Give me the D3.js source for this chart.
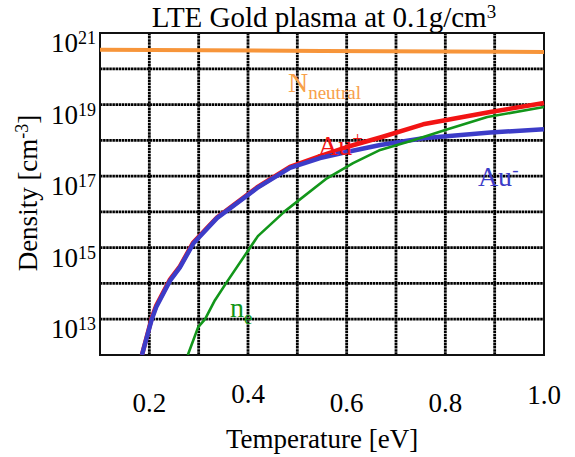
<!DOCTYPE html>
<html>
<head>
<meta charset="utf-8">
<script src="https://cdn.jsdelivr.net/npm/d3@7"></script>
<style>
  body { margin: 0; background: #fff; }
  svg { display: block; font-family: "Liberation Serif", "Times New Roman", serif; }
</style>
</head>
<body>
<div id="chart"></div>
<script>
    // values (temperature in eV, density in cm^-3)
    const tempIon = [0.185, 0.205, 0.214, 0.242, 0.262, 0.289, 0.337, 0.418, 0.485, 0.546, 0.60, 0.668, 0.755, 0.891, 1.0];
    const auPlus = [1.0e12, 1.1e13, 2.4e13, 1.3e14, 3.0e14, 1.4e15, 7.0e15, 4.8e16, 1.8e17, 3.6e17, 6.5e17, 1.2e18, 2.8e18, 6.2e18, 1.1e19];
    const auMinus = [1.0e12, 1.0e13, 2.2e13, 1.2e14, 2.8e14, 1.3e15, 6.7e15, 4.6e16, 1.7e17, 3.2e17, 4.7e17, 7.4e17, 1.15e18, 1.65e18, 2.05e18];

    const tempElectron = [0.278, 0.299, 0.313, 0.333, 0.359, 0.420, 0.475, 0.560, 0.613, 0.668, 0.735, 0.803, 0.885, 1.0];
    const electrons = [1.0e12, 6.0e12, 1.0e13, 3.4e13, 1.2e14, 2.1e15, 1.05e16, 8.7e16, 2.3e17, 5.4e17, 1.0e18, 2.0e18, 4.5e18, 8.5e18];

    const tempNeutral = [0.1, 0.55, 1.0];
    const neutral = [3.4e20, 3.15e20, 2.95e20];

    const xTicks = [0.2, 0.4, 0.6, 0.8, 1.0];
    const xTickLabels = ["0.2", "0.4", "0.6", "0.8", "1.0"];
    const xGrid = [0.2, 0.3, 0.4, 0.5, 0.6, 0.7, 0.8, 0.9];
    const yTickExp = [21, 19, 17, 15, 13];
    const yGridExp = [13, 14, 15, 16, 17, 18, 19, 20];

    // series labels, anchored in data space
    const labelNames = ["N", "Au", "Au", "n"];
    const labelScripts = ["neutral", "+", "-", "e"];
    const labelTemps = [0.481, 0.542, 0.866, 0.3635];
    const labelDens = [2.2e19, 3.9e17, 5.2e16, 1.15e13];

    const colors = { neutral: "#f7953a", plus: "#f21414", minus: "#3c3cc8", e: "#12961a" };
    const labelColors = ["#f7a04a", "#f21414", "#3c3cc8", "#12961a"];

    const width = 575, height = 457;
    const plot = { left: 100, right: 544, top: 33, bottom: 355 };

    const svg = d3.select("#chart")
        .append("svg")
        .attr("width", width)
        .attr("height", height);

    svg.append("rect").attr("width", width).attr("height", height).attr("fill", "#fff");

    const x = d3.scaleLinear().domain([0.1, 1.0]).range([plot.left, plot.right]);
    const y = d3.scaleLog().domain([1e12, 1e21]).range([plot.bottom, plot.top]);

    svg.append("defs").append("clipPath").attr("id", "clip")
        .append("rect")
        .attr("x", plot.left).attr("y", plot.top)
        .attr("width", plot.right - plot.left + 3)
        .attr("height", plot.bottom - plot.top);

    // grid
    const grid = svg.append("g").attr("stroke", "#000").attr("stroke-width", 2.8)
        .attr("stroke-dasharray", "2.5,0.6");
    grid.selectAll(".vg").data(xGrid).join("line")
        .attr("x1", d => x(d)).attr("x2", d => x(d))
        .attr("y1", plot.top).attr("y2", plot.bottom);
    grid.selectAll(".hg").data(yGridExp).join("line")
        .attr("y1", d => y(Math.pow(10, d))).attr("y2", d => y(Math.pow(10, d)))
        .attr("x1", plot.left).attr("x2", plot.right);

    // frame
    svg.append("rect")
        .attr("x", plot.left).attr("y", plot.top)
        .attr("width", plot.right - plot.left).attr("height", plot.bottom - plot.top)
        .attr("fill", "none").attr("stroke", "#111").attr("stroke-width", 2);

    const line = d3.line().x(d => x(d[0])).y(d => y(d[1]));
    const zip = (a, b) => a.map((t, i) => [t, b[i]]);

    const curves = svg.append("g").attr("clip-path", "url(#clip)")
        .attr("fill", "none").attr("stroke-linejoin", "round");

    curves.append("path").datum(zip(tempNeutral, neutral))
        .attr("d", line).attr("stroke", colors.neutral).attr("stroke-width", 4);
    curves.append("path").datum(zip(tempIon, auPlus))
        .attr("d", line).attr("stroke", colors.plus).attr("stroke-width", 4.5);
    curves.append("path").datum(zip(tempIon, auMinus))
        .attr("d", line).attr("stroke", colors.minus).attr("stroke-width", 4.5);
    curves.append("path").datum(zip(tempElectron, electrons))
        .attr("d", line).attr("stroke", colors.e).attr("stroke-width", 2.6);

    // series labels
    labelNames.forEach((name, i) => {
        const t = svg.append("text")
            .attr("x", x(labelTemps[i])).attr("y", y(labelDens[i]))
            .attr("fill", labelColors[i]).attr("font-size", 28);
        t.append("tspan").text(name);
        const sup = labelScripts[i] === "+" || labelScripts[i] === "-";
        t.append("tspan").text(labelScripts[i])
            .attr("font-size", 19)
            .attr("dy", sup ? -10 : 7);
    });

    // x tick labels
    const xLift = [0, 9, 0, 0, 8];
    svg.append("g").selectAll("text").data(xTicks).join("text")
        .attr("x", d => x(d)).attr("y", (d, i) => 412 - xLift[i])
        .attr("text-anchor", "middle").attr("font-size", 27)
        .text((d, i) => xTickLabels[i]);

    // y tick labels
    const yl = svg.append("g").selectAll("text").data(yTickExp).join("text")
        .attr("x", 96).attr("y", d => y(Math.pow(10, d)) + 19)
        .attr("text-anchor", "end").attr("font-size", 27);
    yl.append("tspan").text("10");
    yl.append("tspan").attr("font-size", 18).attr("dy", -8).text(d => d);

    // title
    const title = svg.append("text").attr("x", 324).attr("y", 27)
        .attr("text-anchor", "middle").attr("font-size", 29);
    title.append("tspan").text("LTE Gold plasma at 0.1g/cm");
    title.append("tspan").attr("font-size", 19).attr("dy", -9).text("3");

    // axis titles
    svg.append("text").attr("x", (plot.left + plot.right) / 2).attr("y", 448)
        .attr("text-anchor", "middle").attr("font-size", 27)
        .text("Temperature [eV]");

    const yt = svg.append("text")
        .attr("transform", "translate(37,193) rotate(-90)")
        .attr("text-anchor", "middle").attr("font-size", 27);
    yt.append("tspan").text("Density [cm");
    yt.append("tspan").attr("font-size", 18).attr("dy", -9).text("-3");
    yt.append("tspan").attr("dy", 9).text("]");
</script>
</body>
</html>
